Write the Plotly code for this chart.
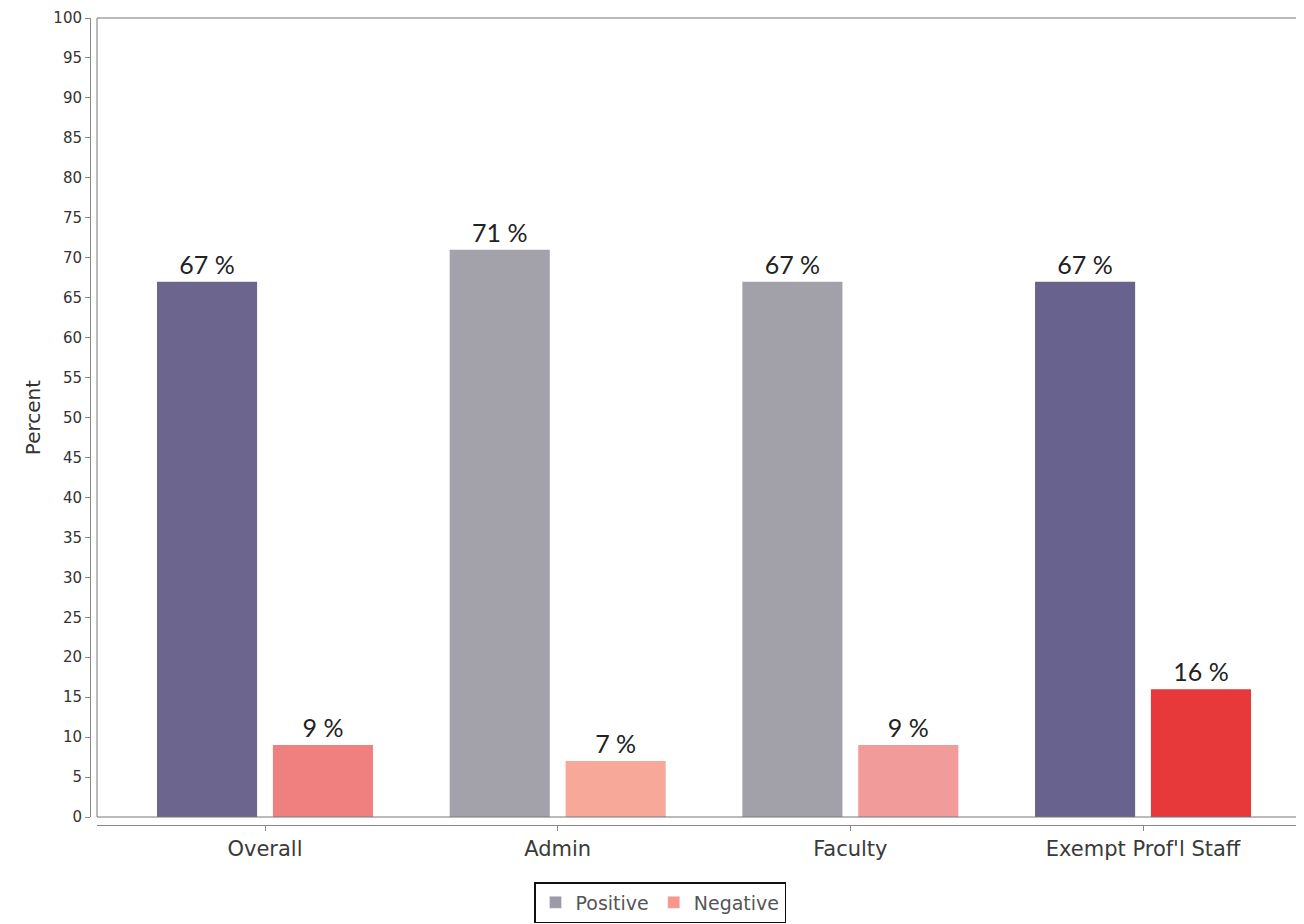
import plotly.graph_objects as go

categories = ["Overall", "Admin", "Faculty", "Exempt Prof'l Staff"]
positive = [67, 71, 67, 67]
negative = [9, 7, 9, 16]
positive_colors = ["#6c668f", "#a3a2aa", "#a2a1a9", "#67638e"]
negative_colors = ["#f08080", "#f7a898", "#f29b9b", "#e8393a"]
y_ticks = list(range(0, 101, 5))

# page body has an 8px margin; compensate so the chart lands where the reference is
OFF = 8
W, H = 1304 - OFF, 924 - OFF
ml, mr, mt, mb = 90 - OFF, 0, 18 - OFF, 924 - 825
pw, ph = W - ml - mr, H - mt - mb
xd0 = 7 / pw
yd0 = 8 / ph

label_font = dict(family="Lato, Liberation Sans, sans-serif", size=25, color="#222222")

fig = go.Figure()
fig.add_trace(go.Bar(
    name="Positive", x=list(range(len(categories))), y=positive,
    width=0.342, offset=-0.369, showlegend=False,
    marker=dict(color=positive_colors, line=dict(width=0)),
    text=[f"{v} %" for v in positive], textposition="outside",
    textfont=label_font, cliponaxis=False,
))
fig.add_trace(go.Bar(
    name="Negative", x=list(range(len(categories))), y=negative,
    width=0.342, offset=0.027, showlegend=False,
    marker=dict(color=negative_colors, line=dict(width=0)),
    text=[f"{v} %" for v in negative], textposition="outside",
    textfont=label_font, cliponaxis=False,
))
# legend entries (single swatch colour per series)
fig.add_trace(go.Bar(name="Positive", x=[None], y=[None], marker_color="#9c9aa6", showlegend=True))
fig.add_trace(go.Bar(name="Negative", x=[None], y=[None], marker_color="#f7968a", showlegend=True))

fig.update_layout(
    width=W, height=H,
    margin=dict(l=ml, r=mr, t=mt, b=mb, pad=0),
    plot_bgcolor="white", paper_bgcolor="white",
    barmode="overlay",
    font=dict(family="DejaVu Sans, sans-serif", color="#444444"),
    xaxis=dict(
        domain=[xd0, 1], anchor="free", position=0,
        range=[-0.574, 3.55],
        tickmode="array", tickvals=list(range(len(categories))), ticktext=categories,
        tickfont=dict(family="DejaVu Sans, sans-serif", size=21, color="#3a3a3a"),
        showline=True, linecolor="#888888", linewidth=1,
        ticks="outside", ticklen=5, tickcolor="#888888",
        showgrid=False, zeroline=False,
    ),
    yaxis=dict(
        domain=[yd0, 1], anchor="free", position=0,
        range=[0, 100],
        tickmode="array", tickvals=y_ticks,
        tickfont=dict(family="DejaVu Sans, sans-serif", size=15, color="#333333"),
        showline=True, linecolor="#888888", linewidth=1,
        ticks="outside", ticklen=5, tickcolor="#888888",
        showgrid=False, zeroline=False,
        title=dict(text="Percent", font=dict(family="DejaVu Sans, sans-serif", size=20, color="#333333"), standoff=6),
    ),
    legend=dict(
        orientation="h", x=(660 - ml - OFF) / pw, xanchor="center", y=-57 / ph, yanchor="top",
        bordercolor="#111111", borderwidth=1.5,
        font=dict(family="DejaVu Sans, sans-serif", size=19, color="#555555"),
        itemwidth=30, tracegroupgap=0,
    ),
    shapes=[
        dict(type="line", xref="x domain", yref="y domain", x0=0, x1=0, y0=0, y1=1, line=dict(color="#777777", width=1)),
        dict(type="line", xref="x domain", yref="y domain", x0=0, x1=1, y0=1, y1=1, line=dict(color="#777777", width=1)),
        dict(type="line", xref="x domain", yref="y domain", x0=0, x1=1, y0=0, y1=0, line=dict(color="#777777", width=1)),
    ],
)

fig.write_html("out.html")
